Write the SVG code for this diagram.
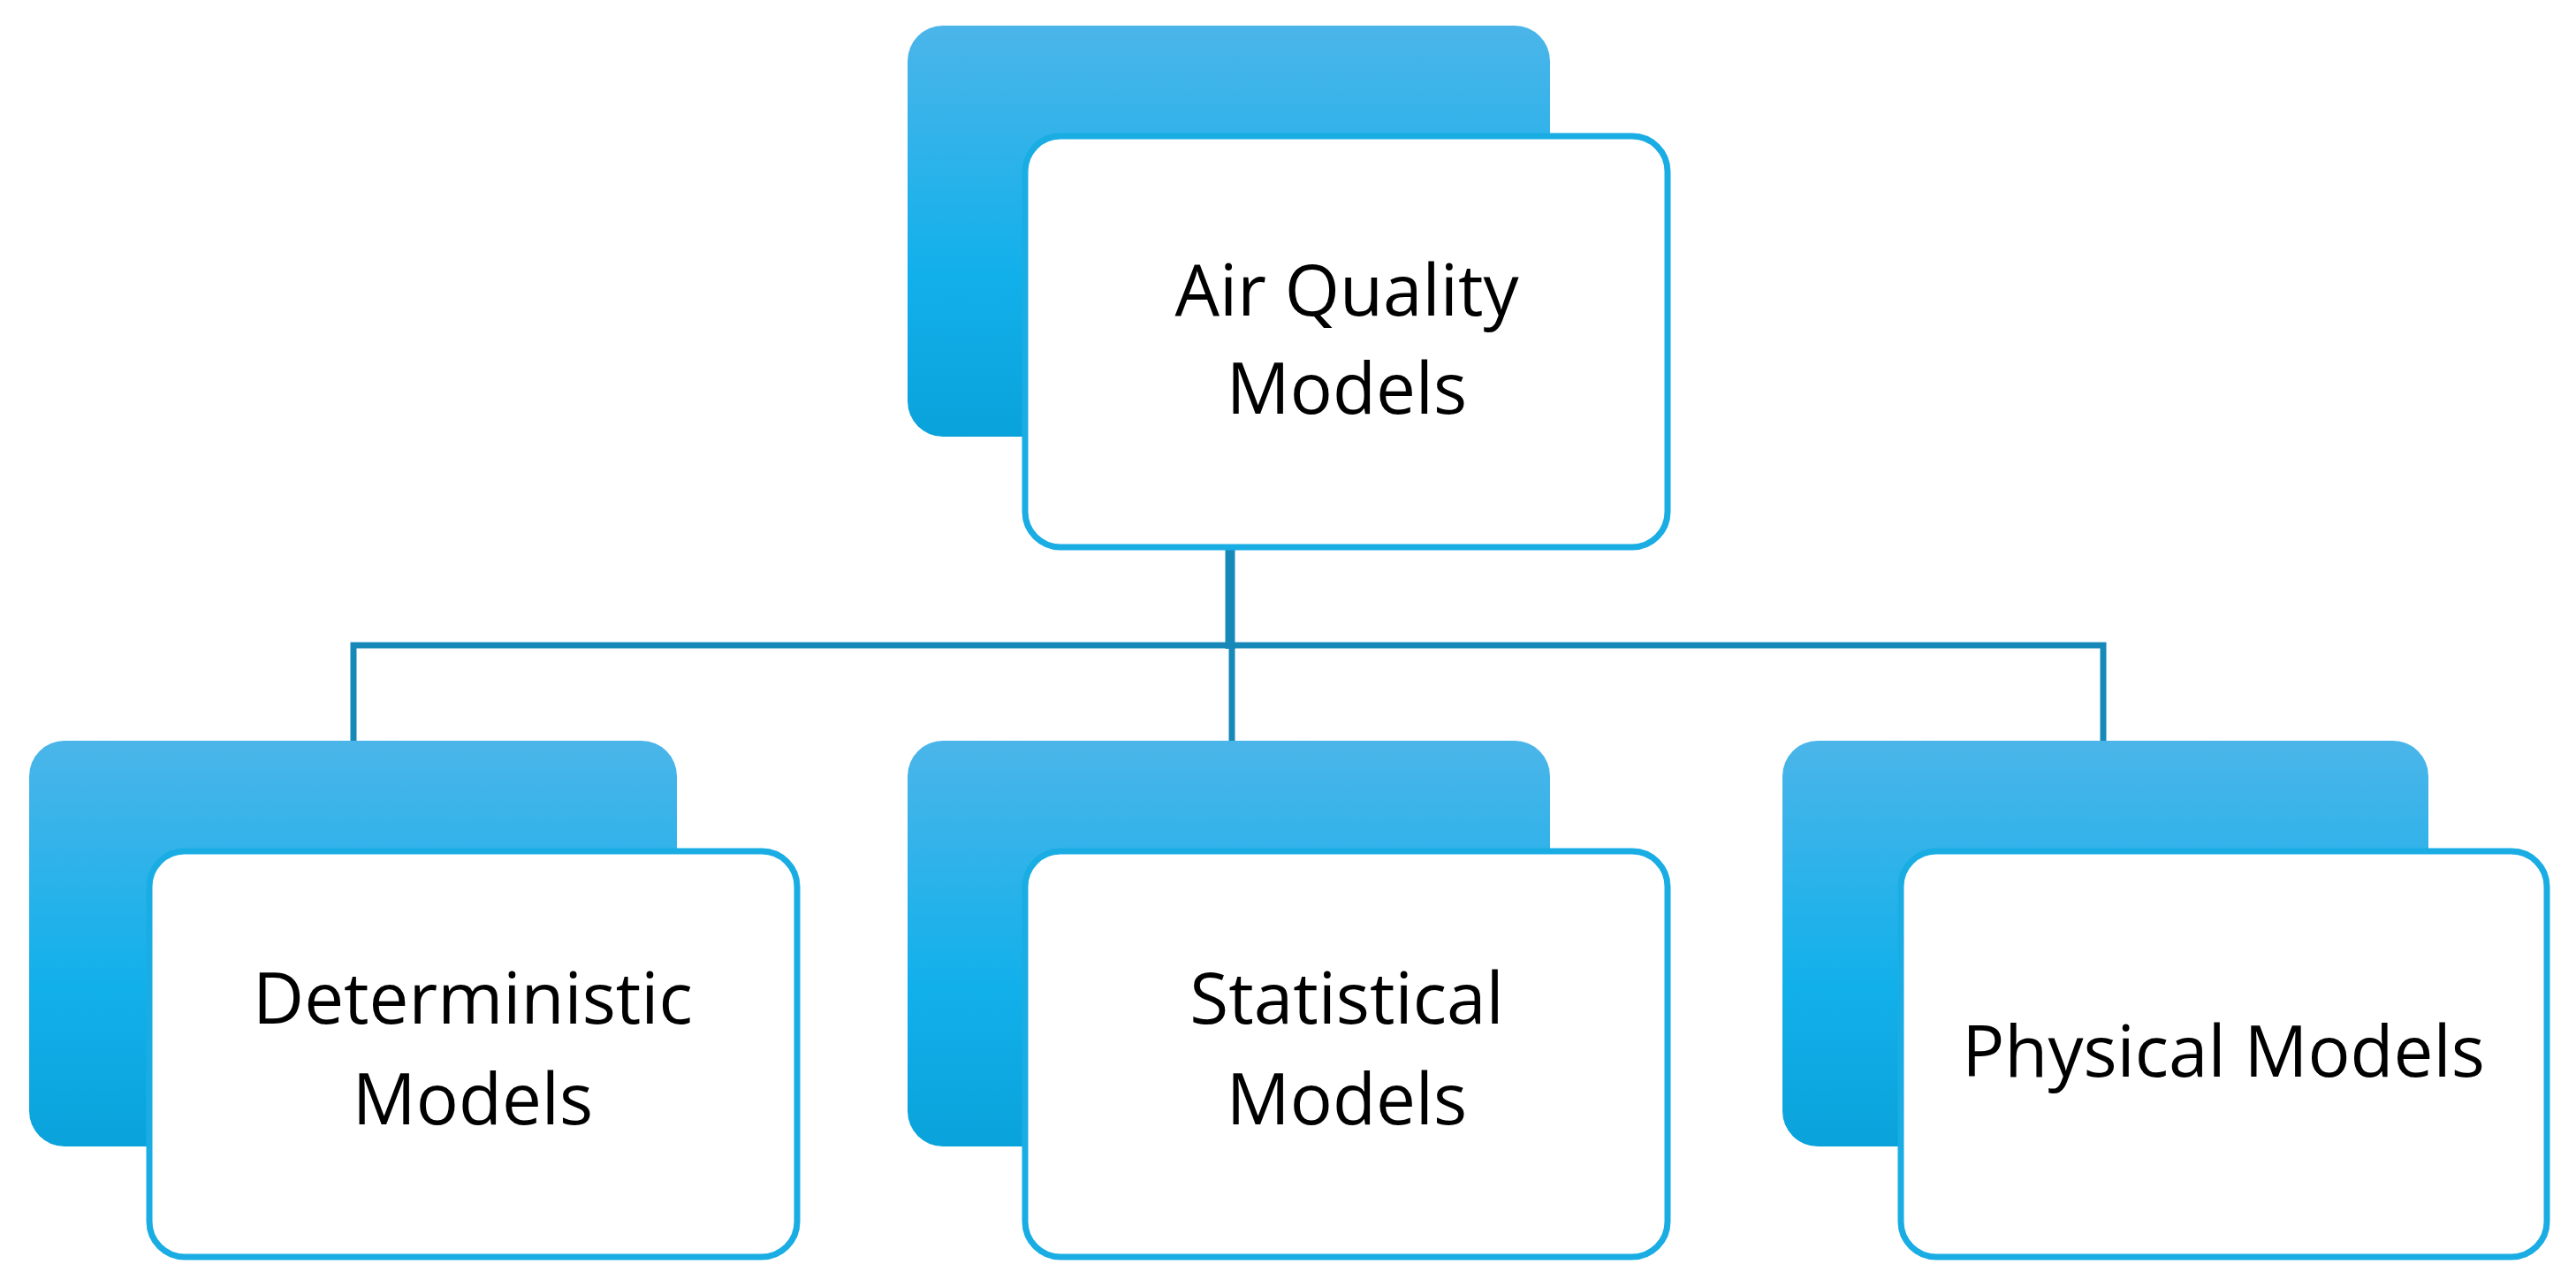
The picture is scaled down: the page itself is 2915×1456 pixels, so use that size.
<svg xmlns="http://www.w3.org/2000/svg" width="2915" height="1456" viewBox="0 0 2915 1456">
<defs>
<linearGradient id="g" x1="0" y1="0" x2="0" y2="1">
<stop offset="0" stop-color="#4BB5E9"/><stop offset="0.6" stop-color="#12B0EB"/><stop offset="1" stop-color="#0AA2DB"/>
</linearGradient>
</defs>
<style>
.b{fill:url(#g)}
.w{fill:#fff;stroke:#1AADE4;stroke-width:7}
.t{font-family:"Open Sans",sans-serif;font-size:80px;fill:#000;text-anchor:middle}
.c{stroke:#1689B9;fill:none}
</style>
<rect width="2915" height="1456" fill="#fff"/>
<g id="connectors">
<line class="c" x1="1392" y1="619" x2="1392" y2="734" stroke-width="11"/>
<polyline class="c" points="400,838 400,730 2380,730 2380,838" stroke-width="7"/>
<line class="c" x1="1394" y1="730" x2="1394" y2="838" stroke-width="7"/>
</g>
<g id="root">
<rect class="b" x="1027" y="29" width="727" height="465" rx="40"/>
<rect class="w" x="1160" y="154" width="727" height="465" rx="40"/>
<text class="t" x="1524" y="357">Air Quality</text>
<text class="t" x="1524" y="468">Models</text>
</g>
<g id="deterministic">
<rect class="b" x="33" y="838" width="733" height="459" rx="40"/>
<rect class="w" x="169" y="963" width="733" height="459" rx="40"/>
<text class="t" x="535" y="1158">Deterministic</text>
<text class="t" x="535" y="1272">Models</text>
</g>
<g id="statistical">
<rect class="b" x="1027" y="838" width="727" height="459" rx="40"/>
<rect class="w" x="1160" y="963" width="727" height="459" rx="40"/>
<text class="t" x="1524" y="1158">Statistical</text>
<text class="t" x="1524" y="1272">Models</text>
</g>
<g id="physical">
<rect class="b" x="2017" y="838" width="731" height="459" rx="40"/>
<rect class="w" x="2151" y="963" width="731" height="459" rx="40"/>
<text class="t" x="2516" y="1218">Physical Models</text>
</g>
</svg>
